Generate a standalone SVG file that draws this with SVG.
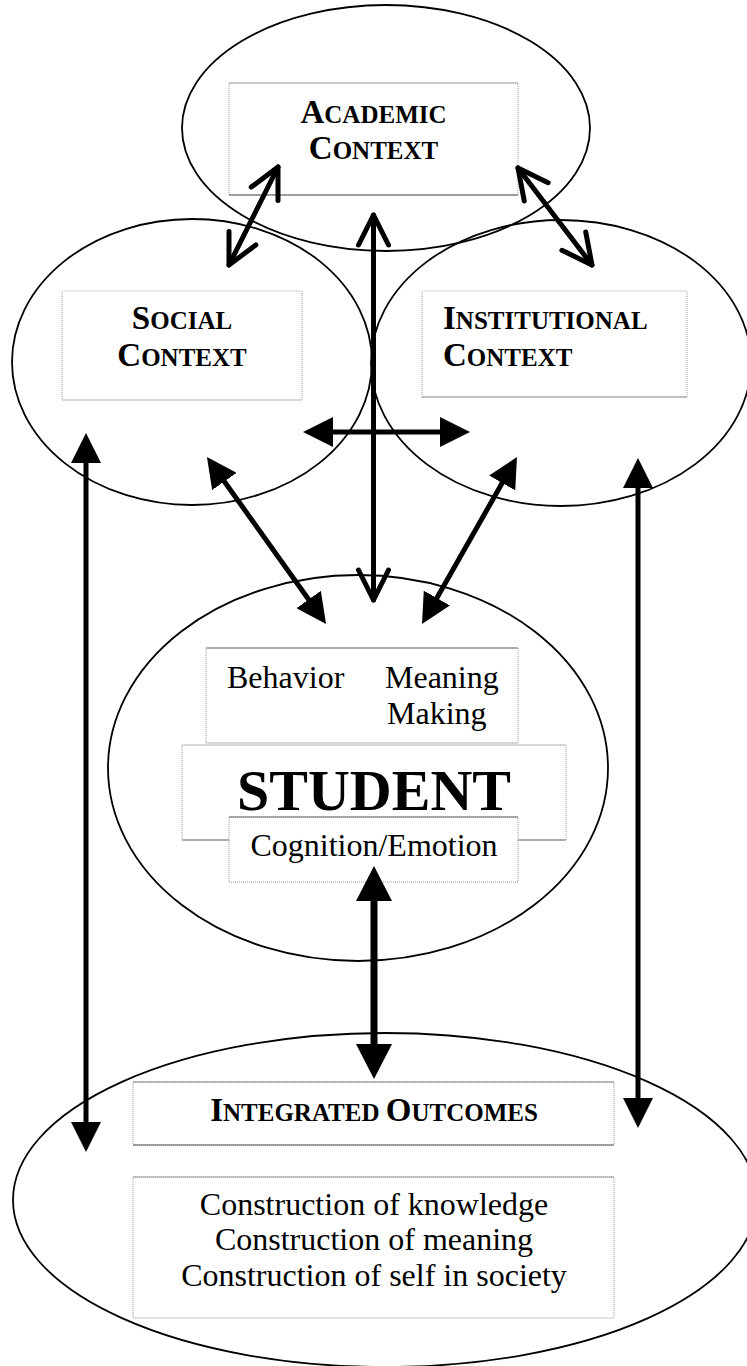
<svg xmlns="http://www.w3.org/2000/svg" width="747" height="1366" viewBox="0 0 747 1366">
<style>
.el{fill:none;stroke:#000;stroke-width:1.8}
.bx{fill:#fff;stroke:#999;stroke-width:1;stroke-dasharray:1 1}
.t{font-family:"Liberation Serif","Times New Roman",serif;fill:#000}
.h{font-weight:bold;font-size:33px}
.s{font-size:25px}
.n{font-size:32px}
.big{font-weight:bold;font-size:58px}
.ar{fill:none;stroke:#000;stroke-width:5}
.ao{fill:none;stroke:#000;stroke-width:5;stroke-linecap:round;marker-start:url(#oh);marker-end:url(#oh)}
.af{marker-start:url(#fh);marker-end:url(#fh)}
.aL{fill:none;stroke:#000;stroke-width:7;marker-start:url(#fhL);marker-end:url(#fhL)}
</style>
<defs>
<marker id="fh" viewBox="0 0 30 30" refX="12" refY="15" markerWidth="30" markerHeight="30" markerUnits="userSpaceOnUse" orient="auto-start-reverse">
<path d="M0,0 L30,15 L0,30 Z" fill="#000"/>
</marker>
<marker id="fhL" viewBox="0 0 35 36" refX="14" refY="18" markerWidth="35" markerHeight="36" markerUnits="userSpaceOnUse" orient="auto-start-reverse">
<path d="M0,0 L35,18 L0,36 Z" fill="#000"/>
</marker>
<marker id="oh" viewBox="0 0 34 34" refX="31" refY="17" markerWidth="34" markerHeight="34" markerUnits="userSpaceOnUse" orient="auto-start-reverse" overflow="visible">
<path d="M1,2 L31,17 L1,32" fill="none" stroke="#000" stroke-width="5" stroke-linecap="round" stroke-linejoin="round"/>
</marker>
</defs>

<g id="academic">
<ellipse class="el" cx="386" cy="128" rx="204" ry="123"/>
<rect class="bx" x="229" y="83" width="289" height="112"/>
<line x1="229" y1="83" x2="518" y2="83" stroke="#aaa" stroke-width="1.2"/>
<line x1="229" y1="195" x2="518" y2="195" stroke="#555" stroke-width="1.2"/>
<text class="t h" x="373.5" y="123" text-anchor="middle">A<tspan class="s">CADEMIC</tspan></text>
<text class="t h" x="373.5" y="159" text-anchor="middle">C<tspan class="s">ONTEXT</tspan></text>
</g>

<g id="social">
<ellipse class="el" cx="192" cy="362" rx="180" ry="143"/>
<rect class="bx" x="62" y="291" width="240" height="109"/>
<line x1="62" y1="291" x2="302" y2="291" stroke="#eee" stroke-width="1.2"/>
<line x1="62" y1="400" x2="302" y2="400" stroke="#ccc" stroke-width="1.2"/>
<text class="t h" x="182" y="329" text-anchor="middle">S<tspan class="s">OCIAL</tspan></text>
<text class="t h" x="182" y="366" text-anchor="middle">C<tspan class="s">ONTEXT</tspan></text>
</g>

<g id="institutional">
<ellipse class="el" cx="561" cy="363" rx="190" ry="143"/>
<rect class="bx" x="422" y="291" width="265" height="106"/>
<line x1="422" y1="291" x2="687" y2="291" stroke="#eee" stroke-width="1.2"/>
<line x1="422" y1="397" x2="687" y2="397" stroke="#999" stroke-width="1.2"/>
<text class="t h" x="443" y="329">I<tspan class="s">NSTITUTIONAL</tspan></text>
<text class="t h" x="443" y="366">C<tspan class="s">ONTEXT</tspan></text>
</g>

<g id="student">
<ellipse class="el" cx="358" cy="768" rx="250" ry="193"/>
<rect class="bx" x="206" y="648" width="312" height="95"/>
<line x1="206" y1="648" x2="518" y2="648" stroke="#777" stroke-width="1.2"/>
<line x1="206" y1="743" x2="518" y2="743" stroke="#ccc" stroke-width="1.2"/>
<text class="t n" x="227" y="688">Behavior</text>
<text class="t n" x="385" y="688">Meaning</text>
<text class="t n" x="387" y="724">Making</text>
<rect class="bx" x="182" y="745" width="384" height="95"/>
<line x1="182" y1="745" x2="566" y2="745" stroke="#ccc" stroke-width="1.2"/>
<line x1="182" y1="840" x2="566" y2="840" stroke="#777" stroke-width="1.2"/>
<text class="t big" x="374" y="810" text-anchor="middle">STUDENT</text>
<rect class="bx" x="229" y="817" width="289" height="65"/>
<line x1="229" y1="817" x2="518" y2="817" stroke="#666" stroke-width="1.2"/>
<text class="t n" x="374" y="856" text-anchor="middle">Cognition/Emotion</text>
</g>

<g id="outcomes">
<ellipse class="el" cx="385" cy="1200" rx="372" ry="167"/>
<rect class="bx" x="133" y="1082" width="481" height="63"/>
<line x1="133" y1="1082" x2="614" y2="1082" stroke="#888" stroke-width="1.2"/>
<line x1="133" y1="1145" x2="614" y2="1145" stroke="#555" stroke-width="1.2"/>
<text class="t h" x="374" y="1121" text-anchor="middle">I<tspan class="s">NTEGRATED </tspan>O<tspan class="s">UTCOMES</tspan></text>
<rect class="bx" x="133" y="1177" width="481" height="141"/>
<line x1="133" y1="1177" x2="614" y2="1177" stroke="#999" stroke-width="1.2"/>
<line x1="133" y1="1318" x2="614" y2="1318" stroke="#ddd" stroke-width="1.2"/>
<text class="t n" x="374" y="1215" text-anchor="middle">Construction of knowledge</text>
<text class="t n" x="374" y="1250" text-anchor="middle">Construction of meaning</text>
<text class="t n" x="374" y="1286" text-anchor="middle">Construction of self in society</text>
</g>

<g id="connectors">
<line class="ao" x1="278" y1="167" x2="229" y2="265"/>
<line class="ao" x1="518" y1="168" x2="592" y2="265"/>
<line class="ao" x1="373.5" y1="215" x2="373.5" y2="600"/>
<line class="ar af" x1="321" y1="432" x2="452" y2="432"/>
<line class="ar af" x1="217.4" y1="471.7" x2="315.6" y2="609.3"/>
<line class="ar af" x1="508.1" y1="472.6" x2="430.9" y2="608.4"/>
<line class="ar af" x1="86" y1="451" x2="86" y2="1134"/>
<line class="ar af" x1="638" y1="476" x2="638" y2="1110"/>
<line class="aL" x1="374" y1="887" x2="374" y2="1058"/>
</g>
</svg>
